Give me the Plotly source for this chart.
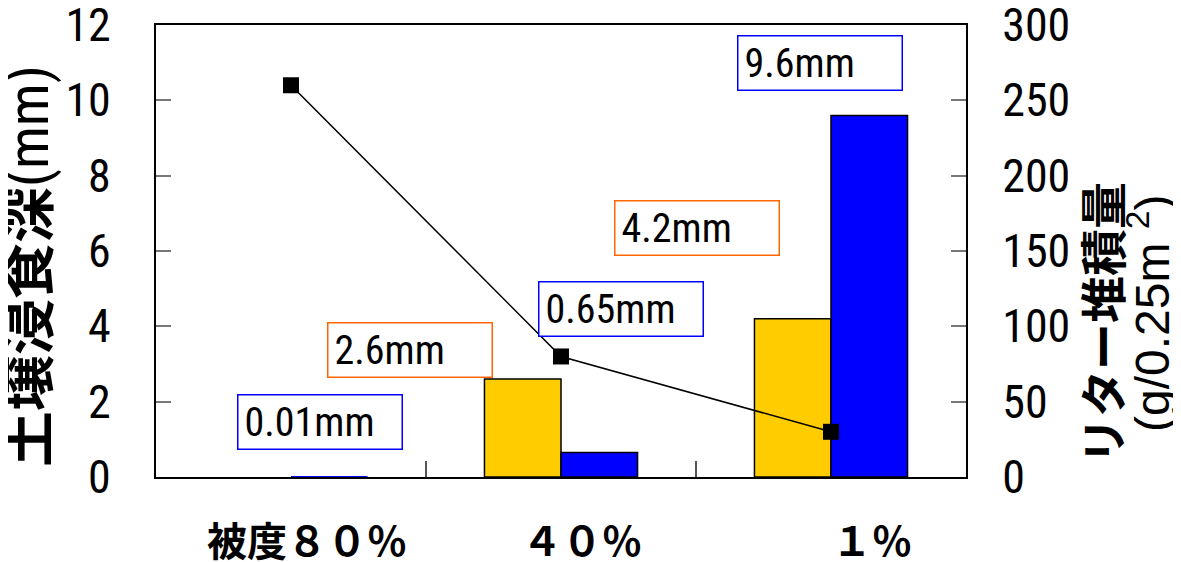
import plotly.graph_objects as go

# ---- data ----
categories = ["被度８０％", "４０％", "１％"]
erosion_orange = [None, 2.6, 4.2]   # mm (left axis)
erosion_blue = [0.01, 0.65, 9.6]    # mm (left axis)
litter = [260, 80, 30]              # g/0.25m2 (right axis)
y_left_ticks = [0, 2, 4, 6, 8, 10, 12]
y_right_ticks = [0, 50, 100, 150, 200, 250, 300]

NUM_FONT = "Roboto Condensed, DejaVu Sans Condensed, Liberation Sans Narrow, Liberation Sans"
CJK_FONT = "Noto Sans CJK JP"

ORANGE = "#FFCC00"
BLUE = "#0000FF"

fig = go.Figure()
fig.add_trace(go.Bar(x=categories, y=erosion_orange,
                     marker=dict(color=ORANGE, line=dict(color="black", width=1.5)),
                     showlegend=False))
fig.add_trace(go.Bar(x=categories, y=erosion_blue,
                     marker=dict(color=BLUE, line=dict(color="black", width=[0, 1.5, 1.5])),
                     showlegend=False))
fig.add_trace(go.Scatter(x=categories, y=litter, yaxis="y2", mode="lines+markers",
                         line=dict(color="black", width=1.5),
                         marker=dict(symbol="square", size=16, color="black"),
                         showlegend=False))

# page has an 8px body margin, so the figure is drawn 8px right/down
OFF = 8
W, H = 1181 - OFF, 562 - OFF
PL, PR, PT, PB = 156, 966, 25, 477   # plot area in page pixels
L, T = PL - OFF, PT - OFF
pw, ph = PR - PL, PB - PT
R, B = W - L - pw, H - T - ph

def px_to_paper(x, y):
    return (x - PL) / pw, (PB - y) / ph

annotations = []
# value boxes: (value, color, left px, top px)
boxes = [
    (erosion_blue[0], BLUE, 237, 394),
    (erosion_orange[1], "#FF6600", 327, 322),
    (erosion_blue[1], BLUE, 538, 281),
    (erosion_orange[2], "#FF6600", 614, 200),
    (erosion_blue[2], BLUE, 737, 35),
]
for v, col, bx, by in boxes:
    xp, yp = px_to_paper(bx, by)
    annotations.append(dict(
        text=f"{v}mm", xref="paper", yref="paper", x=xp, y=yp,
        xanchor="left", yanchor="top", showarrow=False,
        width=151, height=41, borderpad=6, borderwidth=1.5, bordercolor=col,
        align="left", valign="middle", bgcolor="white",
        font=dict(family=NUM_FONT, size=40, color="black")))

# x category labels
shifts = [16, 21, 41]
for c, s in zip(categories, shifts):
    annotations.append(dict(
        text=f"<b>{c}</b>", xref="x", yref="paper", x=c, y=0, yshift=-62, xshift=s,
        xanchor="center", yanchor="middle", showarrow=False,
        font=dict(family=CJK_FONT, size=40, color="black")))

# left axis title
xp, yp = px_to_paper(23, 266)
annotations.append(dict(
    text=("<b>土壌浸食深</b><span style='font-family:Roboto Condensed, DejaVu Sans Condensed;"
          "font-size:57px'>(mm)</span>"),
    xref="paper", yref="paper", x=xp, y=yp, xanchor="center", yanchor="middle",
    textangle=-90, showarrow=False, font=dict(family=CJK_FONT, size=56, color="black")))

# right axis titles
xp, yp = px_to_paper(1100, 323)
annotations.append(dict(
    text="<b>リター堆積量</b>", xref="paper", yref="paper", x=xp, y=yp,
    xanchor="center", yanchor="middle", textangle=-90, showarrow=False,
    font=dict(family=CJK_FONT, size=47, color="black")))
xp, yp = px_to_paper(1149, 314)
annotations.append(dict(
    text="(g/0.25m <sup>2</sup>)", xref="paper", yref="paper", x=xp, y=yp,
    xanchor="center", yanchor="middle", textangle=-90, showarrow=False,
    font=dict(family="Liberation Sans, Arial", size=48, color="black")))

fig.update_layout(
    width=W, height=H,
    margin=dict(l=L, r=R, t=T, b=B, autoexpand=False),
    paper_bgcolor="white", plot_bgcolor="white",
    barmode="group", bargap=0.433, bargroupgap=0,
    xaxis=dict(type="category", showline=True, linecolor="black", linewidth=2, mirror=True,
               ticks="inside", tickson="boundaries", ticklen=16, tickcolor="#555555", tickwidth=1.5,
               showticklabels=False, showgrid=False, zeroline=False, automargin=False),
    yaxis=dict(range=[0, 12], tickvals=y_left_ticks, showline=True, linecolor="black", linewidth=2,
               mirror=True, ticks="inside", ticklen=15, tickcolor="#777777", tickwidth=1.5,
               showgrid=False, zeroline=False, ticklabelstandoff=34, ticklabeloverflow="allow",
               automargin=False,
               tickfont=dict(family=NUM_FONT, size=46, color="black")),
    yaxis2=dict(range=[0, 300], tickvals=y_right_ticks, overlaying="y", side="right",
                showline=True, linecolor="black", linewidth=2,
                ticks="inside", ticklen=15, tickcolor="#777777", tickwidth=1.5,
                showgrid=False, zeroline=False, ticklabelstandoff=25, ticklabeloverflow="allow",
                automargin=False,
                tickfont=dict(family=NUM_FONT, size=46, color="black")),
    annotations=annotations,
)

fig.write_html("out.html")
